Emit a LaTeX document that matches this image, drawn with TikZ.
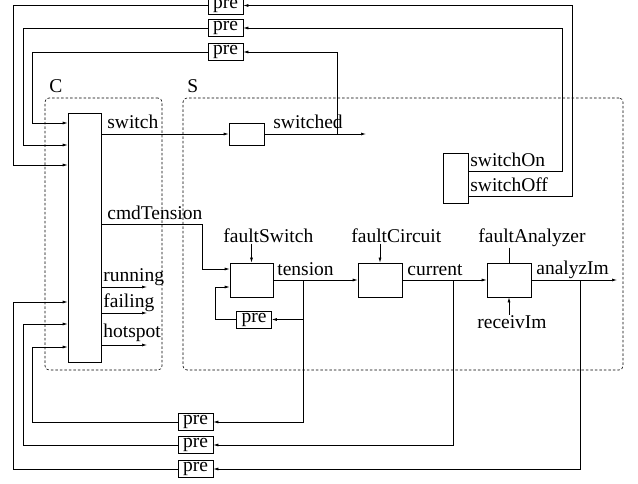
\documentclass[tikz,border=0pt]{standalone}
\usepackage{fontspec}
\setmainfont{Liberation Serif}
\usetikzlibrary{arrows.meta}

\begin{document}
\begin{tikzpicture}[x=1pt, y=-1pt, line width=0.7pt, font=\fontsize{19.5}{22}\selectfont,
  blk/.style={draw, inner sep=0pt},
  prebox/.style={draw, inner sep=0pt, minimum width=35pt, minimum height=17pt},
  lbl/.style={inner sep=0pt, anchor=base west},
  wire/.style={-{Latex[length=5pt,width=3pt]}},
  zone/.style={draw, dash pattern=on 2.5pt off 2pt, rounded corners=4pt, line width=0.6pt}]
\useasboundingbox (0,0) rectangle (638,484);

% Zones C and S
\node[zone, minimum width=117pt, minimum height=272pt] (czone) at (103.5,234) {};
\node[zone, minimum width=440pt, minimum height=272pt] (szone) at (403,234) {};
\node[lbl] (cname) at (49,93) {C};
\node[lbl] (sname) at (187,93) {S};

% Blocks
\node[blk, minimum width=33pt, minimum height=249pt] (ctrl) at (84.5,237.5) {};
\node[blk, minimum width=35pt, minimum height=22pt] (swbox) at (246.5,134) {};
\node[blk, minimum width=25pt, minimum height=50pt] (onoff) at (455.5,178) {};
\node[blk, minimum width=43pt, minimum height=34pt] (fsw) at (251.5,280) {};
\node[blk, minimum width=44pt, minimum height=34pt] (fcir) at (380,280) {};
\node[blk, minimum width=44pt, minimum height=34pt] (fan) at (509,280) {};

% Delays
\foreach \n/\x/\y in {pt1/225.5/5.5, pt2/225.5/28, pt3/225.5/52, pfs/254/319.5, pb1/195.5/422, pb2/195.5/445, pb3/195.5/469}
  \node[prebox] (\n) at (\x,\y) {pre};

% Signal names
\node[lbl] (lsw) at (107,129) {switch};
\node[lbl] (lswd) at (273,129) {switched};
\node[lbl] (lon) at (470,167) {switchOn};
\node[lbl] (loff) at (470,192) {switchOff};
\node[lbl] (lcmd) at (107,220) {cmdTension};
\node[lbl] (lrun) at (103,282) {running};
\node[lbl] (lfail) at (103,308) {failing};
\node[lbl] (lhot) at (103,337) {hotspot};
\node[lbl] (lfs) at (223,243) {faultSwitch};
\node[lbl] (lfc) at (351,243) {faultCircuit};
\node[lbl] (lfa) at (478,243) {faultAnalyzer};
\node[lbl] (lten) at (277,276) {tension};
\node[lbl] (lcur) at (407,276) {current};
\node[lbl] (lan) at (536,275) {analyzIm};
\node[lbl] (lrc) at (477,328) {receivIm};

% Free ends and taps
\coordinate (swout) at (366,134);
\coordinate (aout) at (617,280);
\coordinate (run) at (147,287);
\coordinate (fail) at (147,313);
\coordinate (hot) at (147,345);
\coordinate (swtap) at (337,134);
\coordinate (ttap) at (303,280);
\coordinate (ctap) at (453,280);
\coordinate (atap) at (580,280);

% Connections
\draw[wire] (ctrl.east |- swbox.west) -- (swbox.west);
\draw[wire] (swbox.east) -- (swout);
\draw[wire] (swtap) |- (pt3.east);
\draw[wire] (onoff.east |- 0,171) -| (562,28) -- (pt2.east);
\draw[wire] (onoff.east |- 0,196) -| (572,5.5) -- (pt1.east);
\foreach \p/\x/\y in {pt1/13/165, pt2/23/145, pt3/32/123, pb3/13/302, pb2/23/324, pb1/32/347}
  \draw[wire] (\p.west) -| (\x,\y) -- (ctrl.west |- 0,\y);
\foreach \o in {run, fail, hot}
  \draw[wire] (ctrl.east |- \o) -- (\o);
\draw[wire] (ctrl.east |- 0,224) -| (202,269) -- (fsw.west |- 0,269);
\draw[wire] (lfs.south -| fsw.north) -- (fsw.north);
\draw[wire] (lfc.south -| fcir.north) -- (fcir.north);
\draw (lfa.south -| fan.north) -- (fan.north);
\draw[wire] (lrc.north -| fan.south) -- (fan.south);
\draw[wire] (fsw.east) -- (fcir.west);
\draw[wire] (fcir.east) -- (fan.west);
\draw[wire] (fan.east) -- (aout);
\draw[wire] (ttap) |- (pfs.east);
\draw[wire] (pfs.west) -| (215,287) -- (fsw.west |- 0,287);
\draw[wire] (ttap) |- (pb1.east);
\draw[wire] (ctap) |- (pb2.east);
\draw[wire] (atap) |- (pb3.east);
\end{tikzpicture}
\end{document}
